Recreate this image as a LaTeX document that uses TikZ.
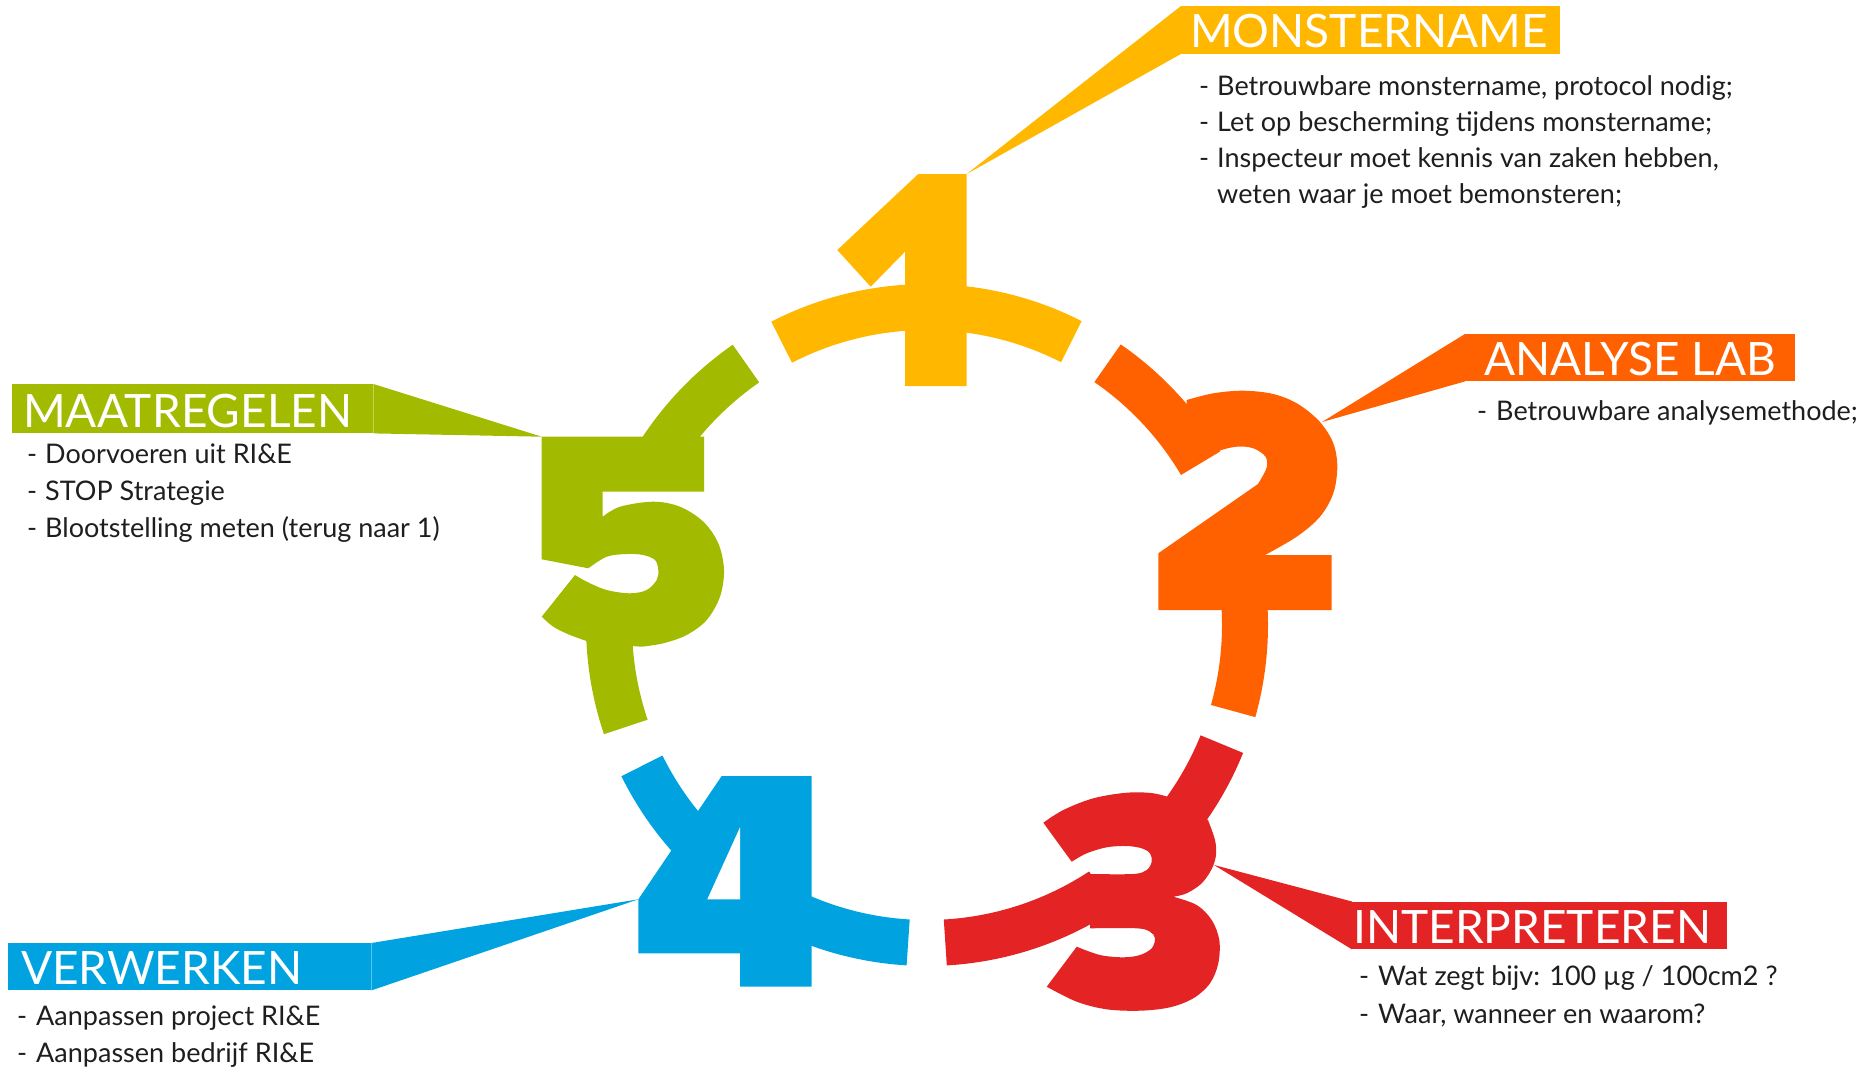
\documentclass[tikz,border=0pt]{standalone}
\usepackage{fontspec}
\setmainfont{Lato}
\definecolor{cyellow}{RGB}{255,183,0}
\definecolor{corange}{RGB}{255,97,0}
\definecolor{cred}{RGB}{228,35,36}
\definecolor{cblue}{RGB}{0,163,224}
\definecolor{cgreen}{RGB}{162,187,0}
\definecolor{ctext}{RGB}{30,30,30}
\tikzset{
  ring/.style={line width=46pt, line cap=butt},
  headbox/.style={inner sep=0pt, anchor=north west},
  headtext/.style={inner sep=0pt, text=white, anchor=base west,
     font=\fontsize{46}{46}\selectfont},
  item/.style={anchor=base west, inner sep=0pt, text=ctext,
     font=\fontsize{27}{32}\selectfont},
}
\newcommand{\dsh}[1]{\makebox[#1pt][l]{-}}
\begin{document}
\begin{tikzpicture}[x=1pt,y=-1pt]
\useasboundingbox (0,0) rectangle (1865,1068);
\coordinate (c) at (927,625);
% ring segments (split where the digits cut them)
\draw[ring, cyellow] (c) ++(-63:318) arc[start angle=-63, end angle=-117.2, radius=318];
\draw[ring, corange] (c) ++(-55.4:318) arc[start angle=-55.4, end angle=-30.6, radius=318];
\draw[ring, corange] (c) ++(-5:318) arc[start angle=-5, end angle=15.7, radius=318];
\draw[ring, cred] (c) ++(22:318) arc[start angle=22, end angle=38, radius=318];
\draw[ring, cred] (c) ++(56.7:318) arc[start angle=56.7, end angle=86.7, radius=318];
\draw[ring, cblue] (c) ++(-206.3:318) arc[start angle=-206.3, end angle=-266.6, radius=318];
\draw[ring, cgreen] (c) ++(-124.7:318) arc[start angle=-124.7, end angle=-150, radius=318];
\draw[ring, cgreen] (c) ++(-178:318) arc[start angle=-178, end angle=-198.7, radius=318];
% digit 1
\fill[cyellow] (918.3,174) -- (966.7,174) -- (966.7,386) -- (905,386) -- (905,251.7)
  -- (870.7,286.7) -- (837.3,250) -- cycle;
\coordinate (t1) at (966.7,174);
% digit 2
\fill[corange] (1183.3,473.3) -- (1186.7,400)
  -- plot[smooth, tension=0.55] coordinates {(1186.7,400) (1213.3,393.3) (1243.3,390.7) (1273.3,394) (1298,404) (1320,422) (1333.3,443.3) (1337.3,466.7) (1333.3,493.3) (1320,516.7) (1296.7,536.7) (1265,555)}
  -- (1331.7,555) -- (1331.7,610) -- (1158.3,610) -- (1158.3,553.3) -- (1258,484)
  -- plot[smooth, tension=0.55] coordinates {(1258,484) (1266.5,468) (1265.5,456.7) (1253.3,448.3) (1236.7,446.7) (1216.7,451.7) (1196.7,463.3) (1183.3,473.3)}
  -- cycle;
\coordinate (t2) at (1322,422);
% digit 3
\fill[cred] (1043.3,822.7)
  -- plot[smooth, tension=0.55] coordinates {(1043.3,822.7) (1063.3,810) (1093.3,798.3) (1126.7,792.7) (1153.3,793.3) (1175,799)}
  -- (1208,820)
  -- plot[smooth, tension=0.55] coordinates {(1208,820) (1215,840) (1216,855) (1211.7,869) (1201.7,883.3) (1186.7,893.3) (1173.3,896.7)}
  -- plot[smooth, tension=0.55] coordinates {(1173.3,896.7) (1196.7,905) (1211.7,920) (1219.3,940) (1218.3,963.3) (1210,983.3) (1193.3,998.3) (1170,1007.3) (1140,1010.7) (1106.7,1009.3) (1076.7,1001.7) (1046.7,986.7)}
  -- (1076.7,946.7)
  -- plot[smooth, tension=0.55] coordinates {(1076.7,946.7) (1100,955) (1123.3,957.3) (1140,955) (1151.7,948.3) (1155,938.3) (1150,931.7) (1136.7,928.3) (1090,928.3)}
  -- (1090,874)
  -- plot[smooth, tension=0.55] coordinates {(1090,874) (1133.3,874) (1146.7,870) (1151.7,861.7) (1150,853.3) (1141.7,848.3) (1126.7,846) (1106.7,847.3) (1086.7,853.3) (1071.7,861.7)}
  -- cycle;
\coordinate (t3) at (1214,865);
% digit 4
\fill[cblue] (721.7,776) -- (811.7,776) -- (811.7,986.7) -- (740,986.7) -- (740,953.3)
  -- (638.3,953.3) -- (638.3,899.3) -- cycle;
\fill[white] (740,827.3) -- (740,899.3) -- (707.3,899.3) -- cycle;
\coordinate (t4) at (638.3,899.3);
% digit 5
\fill[cgreen] (541.7,436.7) -- (704,436.7) -- (704,491.7) -- (602.7,491.7) -- (602.7,516.7)
  -- plot[smooth, tension=0.55] coordinates {(602.7,516.7) (620,506.7) (653.3,501.7) (680,506.7) (703.3,521.7) (718.3,543.3) (724,570) (720,596.7) (706.7,620) (686.7,635) (663.3,643.3) (641.7,646.7)}
  -- (593.3,643.3)
  -- plot[smooth, tension=0.55] coordinates {(593.3,643.3) (570,635) (553.3,626.7) (541.7,616.7)}
  -- (575,575)
  -- plot[smooth, tension=0.55] coordinates {(575,575) (586.7,581.7) (606.7,590) (630,593.3) (646.7,590) (656.7,580) (658.3,570) (655,560) (643.3,555) (626.7,554) (606.7,556.7) (588.3,568.3)}
  -- (541.7,559.3) -- cycle;
\coordinate (t5) at (541.7,436.7);
% heading boxes
\node[headbox, fill=cyellow, minimum width=379pt, minimum height=47.5pt] (mbox) at (1181,6) {};
\node[headbox, fill=corange, minimum width=330pt, minimum height=47pt] (abox) at (1465,334) {};
\node[headbox, fill=cgreen, minimum width=361pt, minimum height=49pt] (gbox) at (12,384) {};
\node[headbox, fill=cblue, minimum width=363pt, minimum height=47pt] (vbox) at (8,943) {};
\node[headbox, fill=cred, minimum width=375pt, minimum height=47.5pt] (ibox) at (1352,901.5) {};
\node[headtext] (mtxt) at ([xshift=9pt, yshift=6pt]mbox.south west) {MONSTERNAME};
\node[headtext] (atxt) at ([xshift=19pt, yshift=6pt]abox.south west) {ANALYSE LAB};
\node[headtext] (gtxt) at ([xshift=11pt, yshift=6pt]gbox.south west) {MAATREGELEN};
\node[headtext] (vtxt) at ([xshift=13pt, yshift=6pt]vbox.south west) {VERWERKEN};
\node[headtext] (itxt) at ([xshift=1pt, yshift=6pt]ibox.south west) {INTERPRETEREN};
% wedges
\fill[cyellow] (t1) -- (mbox.north west) -- (mbox.south west) -- cycle;
\fill[corange] (t2) -- (abox.north west) -- (abox.south west) -- cycle;
\fill[cred] (t3) -- (ibox.north west) -- (ibox.south west) -- cycle;
\fill[cblue] (t4) -- (vbox.north east) -- (vbox.south east) -- cycle;
\fill[cgreen] (t5) -- (gbox.north east) -- (gbox.south east) -- cycle;
% texts
\node[item] (m1) at (1199,95) {\dsh{18}Betrouwbare monstername, protocol nodig;};
\node[item] (m2) at (1199,131) {\dsh{18}Let op bescherming tijdens monstername;};
\node[item] (m3) at (1199,167) {\dsh{18}Inspecteur moet kennis van zaken hebben,};
\node[item] (m4) at (1217,203) {weten waar je moet bemonsteren;};
\node[item] (a1) at (1477,420) {\dsh{19}Betrouwbare analysemethode;};
\node[item] (g1) at (27,463) {\dsh{18}Doorvoeren uit RI\&E};
\node[item] (g2) at (27,500) {\dsh{18}STOP Strategie};
\node[item] (g3) at (27,537) {\dsh{18}Blootstelling meten (terug naar 1)};
\node[item] (v1) at (17,1025) {\dsh{19}Aanpassen project RI\&E};
\node[item] (v2) at (17,1062) {\dsh{19}Aanpassen bedrijf RI\&E};
\node[item] (i1) at (1359,985) {\dsh{19}Wat zegt bijv: 100 µg / 100cm2 ?};
\node[item] (i2) at (1359,1023) {\dsh{19}Waar, wanneer en waarom?};
\end{tikzpicture}
\end{document}
